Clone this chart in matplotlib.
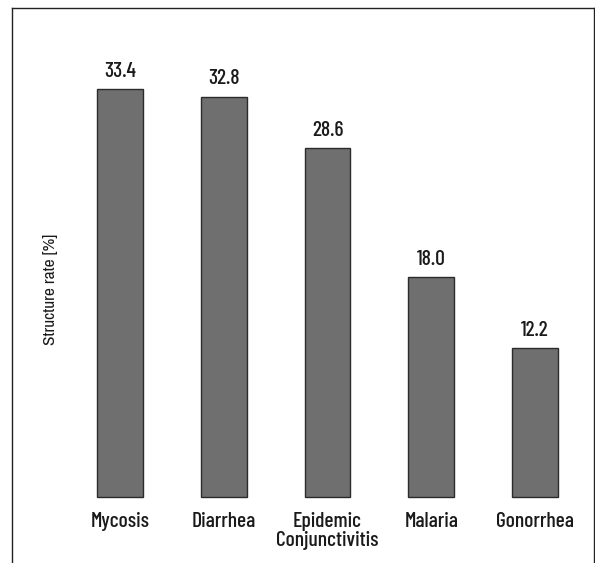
import matplotlib
matplotlib.use("Agg")
from matplotlib import pyplot as plt
from matplotlib import font_manager

diseases = ["Mycosis", "Diarrhea", "Epidemic\nConjunctivitis", "Malaria", "Gonorrhea"]
rates = [33.4, 32.8, 28.6, 18.0, 12.2]
value_labels = ["33.4", "32.8", "28.6", "18.0", "12.2"]

names = {f.name for f in font_manager.fontManager.ttflist}


def first_font(cands):
    for c in cands:
        if c in names:
            return c
    return "DejaVu Sans"


din_like = first_font(["Barlow Condensed", "Barlow Semi Condensed", "Roboto Condensed",
                       "PT Sans Narrow", "Archivo Narrow"])
arial_narrow = first_font(["Archivo Narrow", "PT Sans Narrow", "Roboto Condensed", din_like])
plt.rcParams['font.family'] = [din_like, 'DejaVu Sans']

fig = plt.figure(figsize=(5.95, 5.63), dpi=100)
# axes frame = the box round the chart (pixels 12..594 wide, 8..563 tall)
ax = fig.add_axes([12 / 595, 0, 582 / 595, 555 / 563])

xs = range(len(diseases))
ax.bar(xs, rates, width=0.44, color="#6f6f6f", edgecolor="#2b2b2b", linewidth=1.0)

for x, r, lab in zip(xs, rates, value_labels):
    ax.annotate(lab, (x, r), xytext=(0, 6), textcoords="offset points",
                ha="center", va="bottom", fontsize=15.5, fontweight="medium",
                color="#1a1a1a")

for x, name in zip(xs, diseases):
    ax.annotate(name, (x, 0), xytext=(0, -11), textcoords="offset points",
                ha="center", va="top", fontsize=15.5, fontweight="medium",
                color="#1a1a1a", linespacing=0.95)

ax.set_xlim(-1.041, 4.569)
ax.set_ylim(-5.41, 40.08)
ax.set_xticks([])
ax.set_yticks([])
for s in ["left", "top", "right"]:
    ax.spines[s].set_color("#222222")
    ax.spines[s].set_linewidth(1.0)
ax.spines["bottom"].set_visible(False)

fig.text(51 / 595, 1 - 289 / 563, "Structure rate [%]", rotation=90,
         ha="center", va="center", fontsize=12.5, color="#1a1a1a",
         family=[arial_narrow, 'DejaVu Sans'])

fig.savefig("out.png", dpi=100)
